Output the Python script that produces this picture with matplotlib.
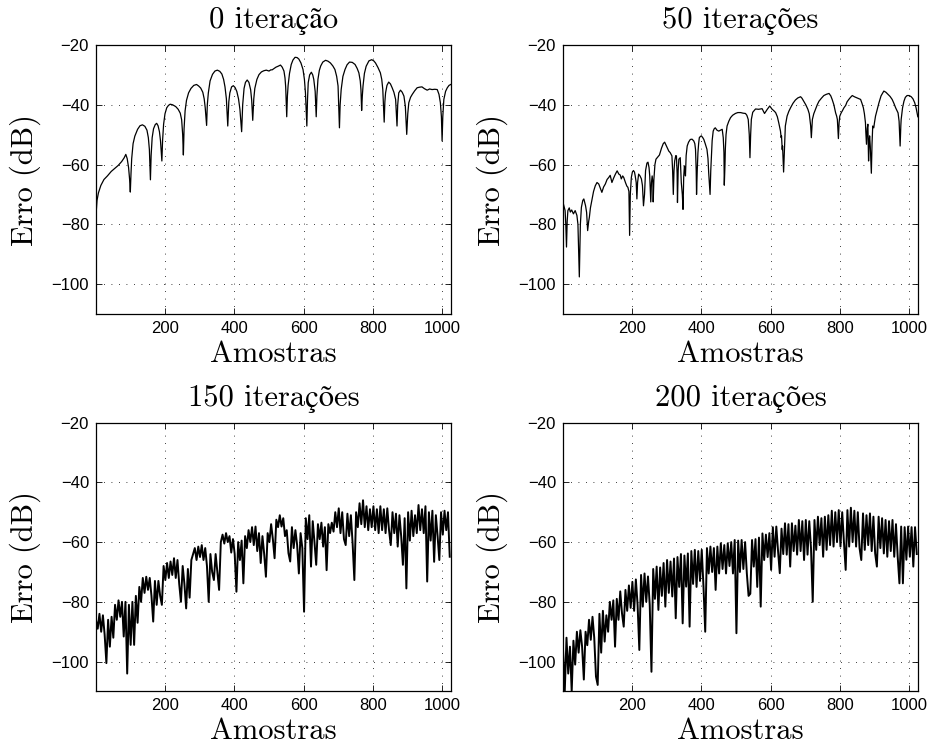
import matplotlib
matplotlib.use("Agg")
import matplotlib.pyplot as plt
import numpy as np

# ── data ────────────────────────────────────────────────────────────────────
titles = ["0 iteração", "50 iterações", "150 iterações", "200 iterações"]

# 0 iterations: smooth lobes with notches -> (sample, dB) points
s0 = [1, 4, 8, 15, 24, 34, 45, 55, 65, 75, 82, 87, 91, 95, 98, 100, 102, 104, 108, 113,
      121, 128, 135, 142, 148, 152, 155, 158, 160, 163, 167, 172, 176, 180, 184, 187, 191, 193, 196, 200,
      205, 210, 215, 222, 231, 238, 244, 248, 251, 253, 255, 258, 262, 268, 275, 283, 291, 297, 303, 309,
      313, 316, 320, 322, 325, 330, 337, 344, 351, 358, 364, 369, 373, 377, 381, 384, 387, 392, 397, 402,
      407, 412, 416, 421, 424, 428, 432, 437, 442, 447, 450, 453, 456, 459, 465, 471, 478, 485, 492, 500,
      505, 509, 515, 520, 526, 533, 538, 543, 546, 548, 551, 553, 555, 559, 564, 569, 575, 581, 586, 592,
      598, 602, 605, 609, 611, 613, 617, 622, 626, 629, 633, 636, 638, 641, 645, 649, 655, 663, 670, 677,
      684, 690, 695, 699, 703, 705, 708, 713, 719, 725, 732, 740, 748, 754, 759, 763, 765, 767, 769, 771,
      775, 780, 788, 796, 802, 807, 814, 821, 825, 828, 832, 834, 836, 840, 845, 850, 855, 860, 865, 869,
      871, 874, 879, 884, 889, 893, 897, 900, 903, 908, 913, 920, 927, 934, 941, 948, 956, 963, 970, 978,
      985, 990, 994, 997, 999, 1001, 1004, 1009, 1014, 1019, 1024]
e0 = [-77, -72, -69.5, -67, -65, -63.8, -62.3, -61.3, -60.3, -59, -57.8, -56.6, -58, -61, -65, -69.2, -63, -58, -53, -50.5,
      -48.2, -47, -46.7, -47.2, -48.5, -51, -55, -65.1, -57, -51, -48, -46.6, -46.2, -47, -49, -52, -58.8, -52, -46.5, -43,
      -41, -40.2, -39.8, -40, -40.6, -41.5, -42.8, -45, -50, -56.8, -48, -42, -38.5, -36, -34.5, -33.5, -33.2, -33.7, -34.4, -35.8,
      -38, -41, -46.9, -40, -36, -32, -29.8, -28.7, -28.4, -28.8, -29.7, -31.5, -34, -38, -47.1, -39, -36, -34, -33.6, -34.2,
      -35.5, -38, -41.5, -49, -40, -34.5, -32.5, -31.7, -32.5, -35, -38.5, -45.2, -38, -34.5, -31.5, -29.9, -29, -28.6, -28.4, -28.7,
      -28.3, -28.3, -27.8, -27.4, -27.1, -26.7, -27.4, -28.7, -31, -34, -44, -37, -33.5, -29.5, -26.5, -25, -24.1, -24.2, -24.7, -26,
      -28.2, -31.5, -36, -47.1, -38, -32.6, -30, -29.1, -30, -31.5, -35.5, -44, -37, -31.5, -28.5, -27, -25.7, -25.1, -25.4, -26,
      -27, -28.2, -30.5, -33.7, -47.7, -40, -34.9, -30.5, -28.2, -26.6, -25.7, -25.8, -26.5, -27.8, -29.3, -32, -34.9, -41.9, -37, -33.7,
      -29.5, -27.1, -25.3, -24.9, -25.3, -26, -27.5, -29.3, -31.5, -34.9, -45.8, -39, -36, -33.5, -32.4, -33, -34.3, -35.8, -38.2, -47.1,
      -40, -36, -35.1, -35.8, -37.1, -40.5, -49.9, -43, -39.3, -37.5, -36.5, -35.3, -34.3, -34.1, -34, -34.6, -35.1, -34.7, -34.9, -34.8,
      -34.9, -36.5, -39.3, -44, -52.1, -44, -38.2, -35.5, -34.3, -33.5, -33.2]

# 50 iterations
s50 = [1, 4, 7, 9, 11, 13, 15, 19, 22, 26, 31, 36, 41, 44, 48, 51, 54, 58, 61, 66,
       69, 72, 75, 77, 80, 84, 89, 94, 99, 104, 109, 113, 118, 123, 128, 133, 137, 142, 147, 152,
       157, 162, 166, 169, 173, 176, 181, 185, 188, 191, 193, 195, 198, 201, 204, 207, 209, 212, 214, 216,
       219, 223, 227, 230, 233, 236, 239, 243, 246, 249, 251, 254, 256, 258, 260, 261, 263, 266, 269, 274,
       279, 285, 290, 294, 298, 302, 306, 310, 315, 317, 319, 321, 323, 326, 328, 330, 331, 333, 335, 339,
       342, 345, 347, 349, 351, 353, 354, 356, 359, 363, 368, 373, 378, 381, 383, 385, 386, 388, 390, 392,
       394, 397, 400, 404, 407, 411, 416, 419, 421, 425, 427, 429, 431, 434, 437, 440, 445, 450, 455, 460,
       463, 465, 466, 468, 469, 471, 474, 479, 484, 490, 498, 505, 513, 520, 527, 531, 535, 538, 540, 542,
       544, 548, 551, 556, 565, 575, 582, 590, 597, 604, 609, 614, 619, 623, 628, 630, 631, 633, 634, 637,
       640, 642, 647, 652, 657, 664, 671, 678, 686, 690, 695, 701, 707, 711, 713, 715, 717, 719, 720, 724,
       729, 734, 739, 746, 753, 760, 768, 773, 777, 782, 787, 790, 792, 795, 797, 799, 803, 806, 811, 816,
       820, 825, 830, 835, 841, 847, 853, 859, 863, 867, 870, 873, 874, 876, 878, 880, 882, 884, 885, 887,
       888, 890, 892, 894, 897, 899, 902, 907, 912, 918, 926, 932, 938, 944, 950, 955, 960, 964, 967, 970,
       973, 975, 976, 980, 984, 988, 993, 999, 1005, 1010, 1015, 1019, 1022, 1024]
e50 = [-72.7, -74, -75.4, -80, -87.6, -79, -75.4, -74.5, -75.9, -75.2, -76.5, -75.4, -77, -80, -97.6, -80, -74.3, -72, -71.5, -73.8,
       -76, -82.1, -79, -77.6, -74.5, -72.1, -69, -67.1, -66, -66.5, -68, -69.3, -67.5, -66.5, -65, -64.3, -63.6, -66, -64.5, -63.2,
       -62.1, -63.2, -63.5, -64.8, -63.8, -64.3, -66, -67.2, -67.6, -69, -83.7, -70, -64.3, -62.5, -62, -62.5, -63.7, -66, -71.5, -66,
       -63.2, -63.8, -64.8, -67, -73.8, -70, -62, -59.5, -59.2, -61, -63.8, -72.5, -66, -63.8, -66, -72.5, -65, -60, -58.2, -57.5,
       -56.8, -54.5, -53, -52.5, -53.5, -54.5, -55.5, -56, -57.1, -62, -70, -62, -58.8, -57, -57.1, -63, -72.7, -62, -58.2, -57.7,
       -66, -70, -75, -64, -60.5, -62, -63.8, -57, -53.8, -52.5, -51.6, -51.5, -52.1, -53, -54.9, -62, -70, -62, -56, -53,
       -51, -50.6, -50.4, -51, -51.6, -53, -54.9, -58, -62.7, -70, -62, -57.1, -52, -48.8, -48, -47.7, -48.5, -48.8, -48.5, -48.2,
       -51, -56, -66.9, -60, -54.9, -50, -47.1, -45.5, -44.3, -43.5, -42.9, -42.6, -42.6, -42.8, -42.9, -43.5, -44.9, -50, -57.7, -50,
       -44.9, -42.5, -42.1, -41.4, -41.5, -41.3, -42.9, -41.5, -40.4, -41.5, -42, -42.6, -44, -46, -48.8, -51, -50.4, -55, -53.8, -62.5,
       -52.7, -47.1, -43.8, -42.2, -41, -39.5, -38.4, -37.7, -37.3, -37.8, -38.8, -40, -41.5, -43, -44.9, -47, -51, -47, -44.9, -43,
       -41.5, -40, -38.8, -37.8, -36.9, -36.5, -36.2, -37, -38.2, -40, -42.7, -43.8, -44.9, -51.3, -46, -43.8, -42.7, -42.1, -41, -40.2,
       -39, -38.2, -37.5, -36.9, -37.3, -37.6, -37.9, -38.2, -39.5, -41, -43, -46, -49, -53.2, -48, -46.5, -58.8, -52, -50.4, -54,
       -57.1, -62.9, -53, -47.1, -47.7, -46, -43.8, -41.5, -39.3, -37, -35.4, -35.8, -36.5, -37.2, -38.2, -39.5, -41, -42, -42.7, -45.5,
       -53.8, -47, -44.9, -41, -38.8, -37.5, -36.9, -36.9, -37.3, -38, -39.3, -41, -42.7, -44]

# 150 and 200 iterations: one value every 5 samples (1, 6, 11, ... 1021)
s_noisy = list(range(1, 1025, 5))
e150 = [-86, -89, -84, -90, -84.5, -91, -100.5, -86, -95, -85,
        -92, -81, -86, -79.5, -85, -80, -91.6, -80, -104, -81,
        -94.4, -80, -94.4, -78, -87, -75, -80, -72, -77, -71.6,
        -76, -72, -78, -86.6, -73, -81, -73, -78, -81, -68,
        -72.7, -67, -72, -66.5, -71, -65.4, -72, -66, -74, -80,
        -68, -74, -82.2, -69, -78.6, -66, -64, -62, -66, -61.5,
        -65, -61, -66, -62, -68, -80, -64, -70, -72.7, -64,
        -70, -76, -60, -57.5, -60.5, -57, -60, -58, -63.5, -59,
        -64, -76.6, -60, -66, -59.5, -73.8, -58, -62, -56, -60,
        -55, -61, -54.8, -63, -57, -67, -58, -64, -71.6, -57,
        -60, -54, -59, -65.4, -52.5, -55, -51, -54.8, -52, -58,
        -56, -63.7, -66.5, -55, -62, -56, -61, -70.5, -57, -62,
        -83.3, -52, -59, -51, -68.2, -53, -60, -67.6, -54, -59,
        -53.5, -61.5, -55, -69.4, -54, -57, -53.5, -56.5, -50, -55,
        -48.7, -57, -50, -59, -61, -50.5, -58, -51, -60.5, -72.7,
        -50, -55, -47, -54, -46, -55, -48, -56, -49, -55,
        -48, -56, -49, -57, -48, -56, -49, -57, -48.7, -56,
        -61, -50, -57, -50.5, -61.5, -51, -58, -67.6, -52, -75.5,
        -50, -59.5, -49.5, -58, -51, -57, -47.6, -56, -49, -57,
        -48, -73.2, -50, -59.5, -49.5, -66.6, -51, -58, -66, -50,
        -57.5, -49.5, -56, -50, -64.9]
e200 = [-96, -110, -92, -104, -95, -110, -93, -101, -90, -97,
        -89.5, -95, -106, -90, -94.5, -86, -92.7, -85, -92, -105,
        -107.8, -84, -97, -83, -93.3, -84.5, -90, -80, -86, -79.5,
        -95, -79, -86, -76.5, -83.8, -88.3, -76, -83, -74.5, -82,
        -73.3, -83, -72.5, -81, -96.1, -71, -81.6, -70.5, -80, -71.5,
        -81, -103.4, -69, -79, -68.2, -82.7, -68.5, -78, -67, -81.6,
        -66, -77, -66.5, -78.2, -65.5, -85.5, -65, -75, -64, -87.2,
        -64.5, -74.9, -63.8, -88.3, -63, -74, -62.6, -75, -63, -73,
        -62.6, -74.9, -90, -62, -70.5, -61.5, -70, -62, -76, -61.5,
        -70.5, -60.4, -69, -61, -70.5, -60.4, -68, -60, -70.5, -59.3,
        -90.5, -59.5, -70, -59.3, -69, -60, -70.5, -78, -77.3, -59.3,
        -68.2, -59, -75, -58.5, -81.6, -57.1, -66, -57.5, -65, -57,
        -69.3, -55, -64.9, -54.8, -63, -70.4, -55.5, -64, -53.7, -64.2,
        -54, -68.2, -53.7, -63, -54.5, -64.2, -52.6, -63, -53, -66,
        -52.6, -64.2, -53, -62, -80, -52.6, -62.6, -51.5, -61, -52,
        -64.9, -51.5, -62.6, -51, -61, -49.5, -61.5, -50, -60, -49.3,
        -61.5, -50, -60, -69.3, -49.3, -61.5, -48.5, -60, -49.5, -61.5,
        -50, -62, -66, -50.4, -62.6, -51, -61, -50.4, -63, -51.5,
        -63.8, -68.2, -51.5, -62, -52, -63.8, -52.6, -64.9, -53, -63,
        -52.6, -64.9, -54, -65, -73.8, -54.8, -73.8, -55, -65.9, -54.8,
        -64.9, -55, -68.2, -55, -64]

series = [(s0, e0), (s50, e50), (s_noisy, e150), (s_noisy, e200)]
line_w = [0.9, 0.9, 1.4, 1.4]
xticks = [200, 400, 600, 800, 1000]
yticks = [-100, -80, -60, -40, -20]

# ── styling ─────────────────────────────────────────────────────────────────
# cmr10 for the LaTeX-looking text, STIX fills in ç / ã / õ
SERIF = ["cmr10", "STIXGeneral", "DejaVu Serif"]
plt.rcParams["font.family"] = ["Liberation Sans", "DejaVu Sans"]
plt.rcParams["axes.unicode_minus"] = True

fig = plt.figure(figsize=(9.3, 7.47), dpi=100)

lefts = [0.1032, 0.6054]
bottoms = [0.5797, 0.0743]
W, H = 0.3815, 0.3600

for k, (xs, ys) in enumerate(series):
    row, col = divmod(k, 2)
    ax = fig.add_axes([lefts[col], bottoms[row], W, H])
    ax.plot(xs, ys, color="black", linewidth=line_w[k])

    ax.set_xlim(1, 1024)
    ax.set_ylim(-110, -20)
    ax.set_xticks(xticks)
    ax.set_yticks(yticks)
    ax.tick_params(direction="in", length=4, width=0.6, labelsize=12, pad=5,
                   top=True, right=True)
    ax.grid(True, linestyle=(0, (1, 8)), color="black", linewidth=0.6)
    for sp in ax.spines.values():
        sp.set_linewidth(0.9)

    ax.set_title(titles[k], fontsize=22, family=SERIF, pad=12)
    ax.set_xlabel("Amostras", fontsize=22, family=SERIF, labelpad=3)
    ax.set_ylabel("Erro (dB)", fontsize=22, family=SERIF)
    ax.yaxis.set_label_coords(-0.155, 0.5)

fig.savefig("out.png", dpi=100)
plt.close()
